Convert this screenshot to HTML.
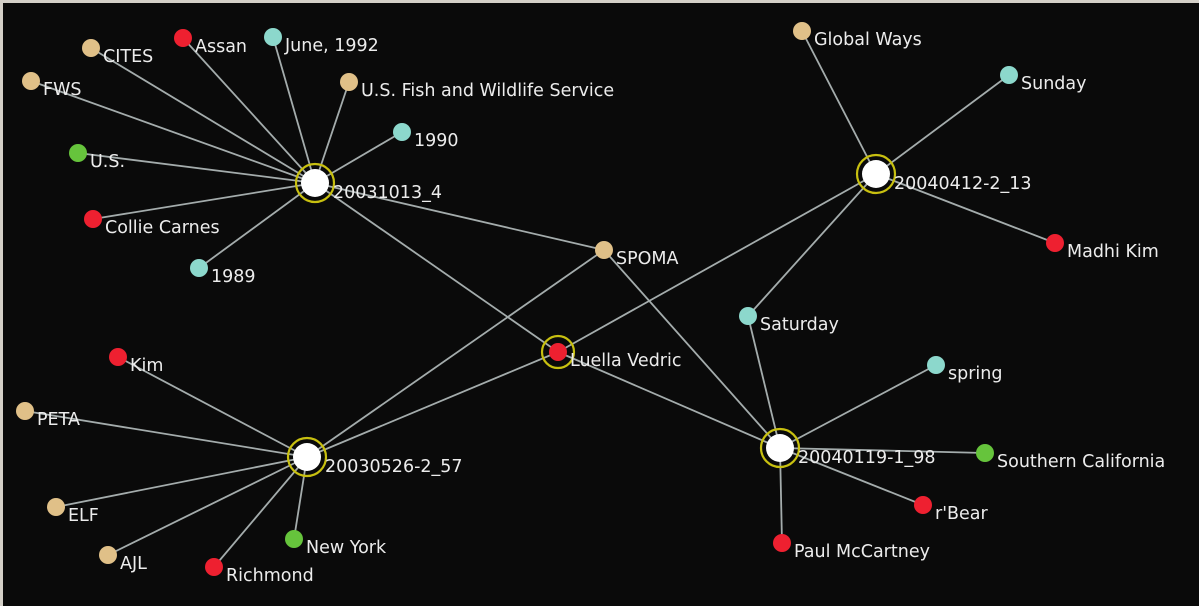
<!DOCTYPE html>
<html><head><meta charset="utf-8"><style>
html,body{margin:0;padding:0;background:#d4d0c8;}
#wrap{position:absolute;left:3px;top:3px;width:1196px;height:603px;background:#0a0a0a;}
svg{position:absolute;left:0;top:0;}
text{font-family:"DejaVu Sans","Liberation Sans",sans-serif;font-size:17.5px;fill:#ececec;}
</style></head><body>
<div id="wrap"></div>
<svg id="g" width="1199" height="606"></svg>
<script>
const nodeNames=["20031013_4","20040412-2_13","20030526-2_57","20040119-1_98","Luella Vedric","CITES","Assan","June, 1992","U.S. Fish and Wildlife Service","FWS","1990","U.S.","Collie Carnes","1989","SPOMA","Global Ways","Sunday","Madhi Kim","Saturday","Kim","PETA","ELF","AJL","Richmond","New York","spring","Southern California","r'Bear","Paul McCartney"];
const nodeTypes=["hub","hub","hub","hub","person-hub","org","person","date","org","org","date","place","person","date","org","org","date","person","date","person","org","org","org","person","place","date","place","person","person"];
const nodeX=[315,876,307,780,558,91,183,273,349,31,402,78,93,199,604,802,1009,1055,748,118,25,56,108,214,294,936,985,923,782];
const nodeY=[183,174,457,448,352,48,38,37,82,81,132,153,219,268,250,31,75,243,316,357,411,507,555,567,539,365,453,505,543];
const edgeFrom=[0,0,0,0,0,0,0,0,0,0,0,1,1,1,1,1,2,2,2,2,2,2,2,2,3,3,3,3,3,3,3];
const edgeTo=[5,6,7,8,9,10,11,12,13,14,4,15,16,17,18,4,19,20,21,22,23,24,14,4,18,14,4,25,26,27,28];
const colors={org:"#e0c088",person:"#ee2030",date:"#8cd8cc",place:"#66c43c"};
const svg=document.getElementById('g');const NS="http://www.w3.org/2000/svg";
function mk(t,a){const e=document.createElementNS(NS,t);for(const k in a)e.setAttribute(k,a[k]);svg.appendChild(e);return e;}
for(let i=0;i<edgeFrom.length;i++){const a=edgeFrom[i],b=edgeTo[i];
const l=mk('line',{x1:nodeX[a],y1:nodeY[a],x2:nodeX[b],y2:nodeY[b],stroke:"#a4acac","stroke-width":1.8});

}
for(let i=0;i<nodeNames.length;i++){const x=nodeX[i],y=nodeY[i],t=nodeTypes[i];
const slug=nodeNames[i].replace(/\W+/g,'-').toLowerCase();let c,lx,ly;
if(t==="hub"){mk('circle',{cx:x,cy:y,r:19,fill:"none",stroke:"#c8c010","stroke-width":2.2});
c=mk('circle',{cx:x,cy:y,r:14,fill:"#ffffff"});lx=x+18;ly=y+15;}
else if(t==="person-hub"){mk('circle',{cx:x,cy:y,r:16,fill:"none",stroke:"#c8c010","stroke-width":2.2});
c=mk('circle',{cx:x,cy:y,r:9,fill:colors.person});lx=x+12;ly=y+14;}
else{c=mk('circle',{cx:x,cy:y,r:9,fill:colors[t]});lx=x+12;ly=y+14;}


const tx=mk('text',{x:lx,y:ly});tx.textContent=nodeNames[i];

}
</script>
</body></html>
